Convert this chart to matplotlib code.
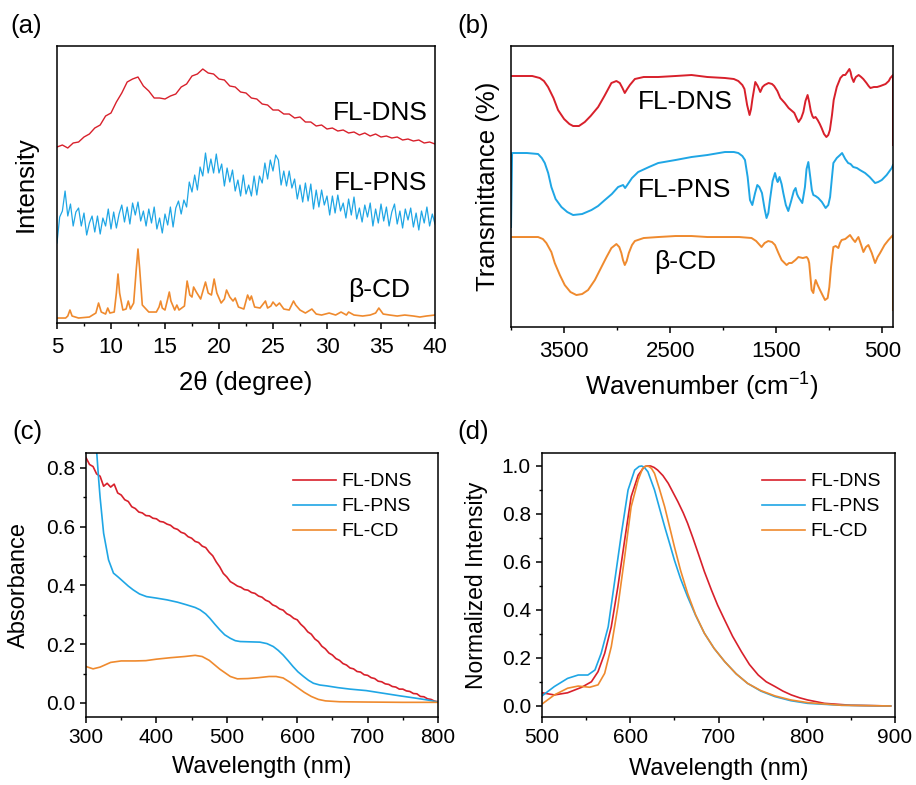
import numpy as np
import matplotlib.pyplot as plt
from matplotlib.ticker import MultipleLocator

plt.rcParams['font.family'] = ['Liberation Sans', 'DejaVu Sans']
plt.rcParams['mathtext.fontset'] = 'custom'
plt.rcParams['mathtext.rm'] = 'Liberation Sans'
plt.rcParams['mathtext.it'] = 'Liberation Sans:italic'
plt.rcParams['axes.linewidth'] = 1.1

RED = '#D8202B'
BLUE = '#1FA6E5'
ORANGE = '#EF8A2E'

# ---------------- (a) XRD, stacked (arbitrary intensity units) ----------------
xrd_dns_x = np.linspace(5, 40, 71)
xrd_dns = [176, 178, 175, 180, 181, 186, 189, 195, 198, 207,
           210, 221, 230, 241, 244, 246, 237, 232, 225, 225,
           224, 227, 229, 236, 239, 247, 249, 254, 250, 249,
           244, 243, 237, 236, 231, 230, 225, 224, 219, 218,
           213, 213, 209, 209, 205, 206, 201, 201, 197, 198,
           194, 195, 192, 193, 190, 191, 188, 190, 187, 189,
           186, 187, 185, 186, 183, 184, 182, 183, 180, 181,
           179]

xrd_pns_x = np.linspace(5, 40, 141)
xrd_pns = [80, 106, 112, 132, 107, 119, 97, 111, 115, 97,
           110, 88, 100, 107, 91, 107, 89, 105, 97, 114,
           94, 111, 95, 109, 118, 101, 116, 99, 120, 108,
           121, 102, 112, 97, 114, 100, 116, 94, 105, 90,
           109, 98, 116, 96, 115, 122, 109, 123, 116, 141,
           131, 148, 133, 156, 147, 170, 150, 164, 150, 169,
           150, 159, 137, 155, 141, 153, 132, 143, 127, 148,
           129, 138, 127, 147, 128, 147, 140, 160, 144, 163,
           152, 168, 163, 138, 152, 137, 152, 135, 144, 124,
           138, 121, 140, 122, 139, 114, 133, 116, 133, 118,
           127, 108, 127, 110, 128, 112, 120, 105, 124, 108,
           126, 104, 115, 101, 118, 106, 120, 97, 114, 100,
           119, 102, 116, 97, 111, 119, 99, 112, 95, 114,
           103, 115, 96, 110, 93, 112, 100, 116, 97, 109,
           99]

xrd_cd = [(5.0, 5), (5.8, 5), (6.0, 7), (6.2, 13), (6.4, 7), (7.0, 5), (8.0, 6),
          (8.6, 10), (8.85, 20), (9.1, 11), (9.5, 9), (9.7, 15), (9.9, 10),
          (10.3, 11), (10.5, 30), (10.65, 49), (10.8, 30), (11.1, 13), (11.4, 14),
          (11.6, 22), (11.8, 14), (12.1, 20), (12.35, 55), (12.5, 74), (12.65, 55),
          (12.9, 18), (13.5, 11), (14.2, 11), (14.45, 16), (14.6, 22), (14.75, 15),
          (15.0, 13), (15.25, 24), (15.4, 31), (15.55, 22), (15.9, 13), (16.1, 18),
          (16.3, 13), (16.8, 17), (17.05, 42), (17.3, 28), (17.5, 26), (17.65, 36),
          (17.9, 31), (18.3, 24), (18.75, 41), (19.0, 30), (19.3, 28), (19.55, 44),
          (19.8, 30), (20.2, 20), (20.5, 24), (20.7, 33), (21.0, 26), (21.3, 22),
          (21.5, 25), (21.8, 16), (22.3, 14), (22.65, 28), (22.85, 23), (23.0, 27),
          (23.3, 16), (23.8, 15), (24.3, 22), (24.5, 15), (24.8, 17), (25.0, 21),
          (25.3, 17), (25.6, 20), (26.0, 14), (26.5, 13), (26.9, 22), (27.1, 18),
          (27.5, 13), (28.0, 10), (28.6, 14), (29.0, 9), (29.5, 8), (30.2, 10),
          (30.8, 8), (31.3, 11), (31.8, 8), (32.0, 11), (32.5, 8), (33.3, 7),
          (34.0, 8), (34.5, 10), (34.8, 15), (35.2, 9), (35.8, 8), (36.5, 7),
          (37.2, 8), (38.0, 7), (38.6, 6), (39.2, 7), (40.0, 8)]

# ---------------- (b) FTIR, stacked (arbitrary transmittance units) ----------------
ftir_dns = [(3990, 251), (3800, 251), (3729, 249), (3690, 246), (3651, 240), (3600, 229),
            (3557, 217), (3500, 208), (3450, 203), (3415, 201), (3360, 201), (3305, 205),
            (3250, 211), (3179, 220), (3120, 231), (3054, 244), (3007, 246), (2975, 244),
            (2950, 239), (2928, 234), (2905, 238), (2880, 242), (2833, 248), (2750, 250),
            (2613, 250), (2450, 251), (2299, 252), (2150, 250), (1984, 249), (1900, 248),
            (1858, 246), (1820, 242), (1800, 238), (1775, 222), (1752, 212), (1738, 218),
            (1725, 228), (1698, 245), (1675, 241), (1651, 235), (1630, 240), (1610, 242),
            (1573, 244), (1540, 243), (1520, 241), (1490, 236), (1462, 229), (1420, 224),
            (1384, 219), (1340, 215), (1330, 214), (1305, 208), (1290, 205), (1265, 209),
            (1245, 215), (1225, 226), (1205, 232), (1190, 225), (1175, 216), (1160, 211),
            (1148, 209), (1130, 210), (1110, 207), (1090, 203), (1073, 199), (1050, 193),
            (1028, 190), (1010, 192), (995, 197), (975, 212), (959, 227), (930, 240),
            (896, 249), (870, 252), (850, 252), (830, 255), (811, 258), (800, 255),
            (790, 250), (771, 245), (760, 248), (750, 250), (724, 252), (700, 250),
            (680, 248), (650, 244), (630, 241), (613, 239), (580, 240), (550, 240),
            (519, 241), (470, 243), (440, 246), (425, 249), (400, 252), (400, 182)]

ftir_pns = [(4000, 100), (3990, 174), (3850, 174), (3745, 173), (3710, 169), (3682, 164),
            (3650, 154), (3620, 140), (3580, 128), (3525, 120), (3470, 115), (3415, 112),
            (3330, 113), (3242, 117), (3180, 121), (3116, 127), (3050, 133), (2991, 140),
            (2944, 142), (2925, 139), (2905, 142), (2860, 149), (2802, 155), (2700, 160),
            (2613, 164), (2450, 167), (2299, 170), (2150, 172), (1984, 175), (1900, 175),
            (1858, 174), (1820, 171), (1795, 167), (1770, 150), (1748, 127), (1726, 122),
            (1700, 134), (1679, 142), (1660, 140), (1635, 134), (1610, 118), (1592, 109),
            (1575, 114), (1560, 127), (1535, 146), (1512, 154), (1495, 147), (1487, 145),
            (1470, 150), (1450, 143), (1434, 134), (1410, 122), (1387, 116), (1360, 126),
            (1335, 136), (1318, 139), (1305, 133), (1292, 130), (1255, 124), (1230, 140),
            (1215, 158), (1198, 165), (1180, 150), (1165, 137), (1151, 132), (1130, 131),
            (1104, 129), (1070, 125), (1035, 119), (1010, 122), (993, 130), (975, 150),
            (962, 164), (930, 169), (899, 172), (880, 174), (850, 168), (823, 164),
            (800, 163), (775, 160), (740, 159), (712, 157), (663, 154), (620, 150),
            (569, 144), (540, 145), (506, 147), (460, 152), (412, 159), (400, 162)]

ftir_cd = [(3988, 90), (3850, 90), (3745, 90), (3700, 88), (3667, 84), (3620, 75),
           (3588, 64), (3540, 52), (3494, 42), (3440, 35), (3384, 32), (3330, 33),
           (3274, 37), (3210, 47), (3148, 60), (3100, 70), (3054, 79), (3007, 83),
           (2980, 80), (2960, 74), (2945, 67), (2928, 62), (2910, 66), (2890, 74),
           (2860, 82), (2833, 86), (2750, 89), (2613, 90), (2450, 91), (2299, 91),
           (2150, 90), (1984, 90), (1850, 90), (1733, 89), (1690, 86), (1639, 80),
           (1610, 84), (1576, 86), (1540, 85), (1512, 82), (1480, 74), (1450, 67),
           (1403, 62), (1380, 64), (1355, 64), (1320, 67), (1292, 70), (1250, 69),
           (1214, 70), (1200, 68), (1190, 64), (1178, 50), (1167, 37), (1151, 34),
           (1140, 42), (1129, 47), (1110, 42), (1088, 37), (1060, 31), (1041, 27),
           (1016, 29), (1000, 40), (984, 60), (962, 80), (940, 81), (915, 79),
           (900, 84), (884, 87), (850, 88), (805, 92), (780, 88), (757, 85),
           (740, 88), (726, 90), (700, 82), (679, 75), (655, 80), (632, 82),
           (600, 74), (569, 64), (545, 70), (522, 74), (480, 82), (443, 87),
           (400, 92), (400, 17)]

# ---------------- (c) UV-vis absorbance ----------------
uv_dns_x = np.arange(300, 801, 5)
uv_dns = [0.835, 0.812, 0.805, 0.780, 0.772, 0.738, 0.748, 0.735, 0.745, 0.715,
          0.708, 0.692, 0.686, 0.668, 0.662, 0.650, 0.647, 0.638, 0.637, 0.629,
          0.627, 0.618, 0.616, 0.609, 0.605, 0.595, 0.591, 0.581, 0.577, 0.566,
          0.561, 0.550, 0.546, 0.534, 0.529, 0.513, 0.501, 0.480, 0.463, 0.441,
          0.429, 0.413, 0.406, 0.398, 0.394, 0.386, 0.384, 0.376, 0.373, 0.364,
          0.360, 0.350, 0.345, 0.334, 0.329, 0.320, 0.316, 0.304, 0.298, 0.288,
          0.283, 0.268, 0.257, 0.242, 0.234, 0.218, 0.209, 0.193, 0.184, 0.170,
          0.163, 0.151, 0.145, 0.134, 0.129, 0.119, 0.116, 0.107, 0.105, 0.096,
          0.094, 0.086, 0.083, 0.074, 0.072, 0.065, 0.063, 0.056, 0.054, 0.047,
          0.047, 0.041, 0.039, 0.032, 0.031, 0.022, 0.021, 0.014, 0.012, 0.006,
          0.004]

uv_pns = [(312, 1.0), (315, 0.86), (318, 0.76), (320, 0.70), (325, 0.578), (332, 0.487),
          (339, 0.442), (346, 0.428), (353, 0.413), (360, 0.398), (367, 0.385), (376, 0.371),
          (386, 0.362), (400, 0.357), (415, 0.351), (430, 0.343), (443, 0.334), (455, 0.325),
          (462, 0.317), (470, 0.303), (476, 0.288), (483, 0.268), (490, 0.249), (497, 0.232),
          (505, 0.220), (512, 0.212), (519, 0.209), (533, 0.208), (547, 0.207), (557, 0.202),
          (566, 0.192), (573, 0.179), (580, 0.163), (587, 0.144), (594, 0.124), (601, 0.106),
          (609, 0.090), (616, 0.077), (623, 0.067), (632, 0.061), (642, 0.058), (658, 0.052),
          (675, 0.047), (698, 0.042), (722, 0.033), (746, 0.024), (769, 0.016), (785, 0.010),
          (800, 0.003)]

uv_cd = [(300, 0.124), (310, 0.116), (320, 0.122), (335, 0.138), (350, 0.143), (370, 0.143),
         (385, 0.144), (400, 0.149), (420, 0.154), (440, 0.158), (455, 0.162), (465, 0.158),
         (475, 0.145), (490, 0.115), (505, 0.090), (515, 0.082), (530, 0.083), (545, 0.086),
         (560, 0.090), (570, 0.090), (580, 0.085), (590, 0.070), (600, 0.053), (610, 0.036),
         (620, 0.022), (630, 0.012), (640, 0.007), (660, 0.004), (700, 0.003), (750, 0.002),
         (800, 0.002)]

# ---------------- (d) normalized PL ----------------
pl_dns = [(500, 0.055), (514, 0.046), (529, 0.055), (545, 0.078), (556, 0.101), (563.5, 0.143),
          (571, 0.219), (578.5, 0.330), (586, 0.497), (593.7, 0.692), (601, 0.872), (609, 0.962),
          (616, 0.997), (619, 1.0), (623, 1.0), (627, 0.994), (631, 0.983), (637, 0.960),
          (643, 0.928), (648, 0.893), (654, 0.851), (660, 0.805), (665, 0.761), (671, 0.700),
          (677, 0.636), (684, 0.560), (692, 0.483), (699, 0.420), (707, 0.358), (716, 0.290),
          (726, 0.226), (735, 0.173), (745, 0.129), (754, 0.101), (764, 0.081), (773, 0.062),
          (782.5, 0.046), (792, 0.034), (801, 0.025), (820, 0.011), (850, 0.003), (895, 0.0)]

pl_pns = [(500, 0.042), (514, 0.081), (529, 0.115), (541, 0.129), (552, 0.129), (560, 0.150),
          (567, 0.219), (575, 0.330), (582, 0.511), (590, 0.719), (597.5, 0.900), (605, 0.983),
          (610, 0.998), (613, 1.0), (616, 0.994), (620, 0.976), (627.5, 0.900), (633, 0.826),
          (639, 0.747), (645, 0.672), (650, 0.608), (657, 0.530), (665, 0.455), (674, 0.378),
          (684, 0.303), (695, 0.240), (707, 0.185), (720, 0.134), (733, 0.094), (748, 0.062),
          (764, 0.039), (782, 0.022), (801, 0.011), (839, 0.003), (895, 0.0)]

pl_cd = [(500, 0.008), (514, 0.046), (529, 0.074), (541, 0.083), (554, 0.078), (563.5, 0.088),
         (571, 0.136), (578.5, 0.247), (586, 0.414), (593.7, 0.622), (601, 0.830), (609, 0.942),
         (614, 0.990), (618, 1.0), (621, 0.998), (624, 0.990), (627.5, 0.969), (633, 0.905),
         (639, 0.830), (645, 0.740), (650, 0.664), (657, 0.565), (665, 0.469), (674, 0.380),
         (684, 0.303), (695, 0.240), (707, 0.185), (720, 0.134), (733, 0.094), (748, 0.064),
         (764, 0.042), (782, 0.025), (801, 0.014), (839, 0.003), (895, 0.0)]


def xy(pairs):
    arr = np.array(pairs, dtype=float)
    return arr[:, 0], arr[:, 1]


def style(ax, size):
    ax.tick_params(which='major', direction='out', length=4, width=1.1,
                   labelsize=size, top=False, right=False, pad=4)
    ax.tick_params(which='minor', direction='out', length=2.5, width=1.0,
                   top=False, right=False)


fig = plt.figure(figsize=(9.16, 7.85), dpi=100)

# (a)
ax = fig.add_axes([0.0622, 0.5885, 0.4127, 0.3529])
ax.plot(xrd_dns_x, xrd_dns, color=RED, lw=1.0)
ax.plot(xrd_pns_x, xrd_pns, color=BLUE, lw=0.9)
ax.plot(*xy(xrd_cd), color=ORANGE, lw=1.2)
ax.set_xlim(5, 40)
ax.set_ylim(0, 277)
ax.set_yticks([])
ax.xaxis.set_major_locator(MultipleLocator(5))
ax.xaxis.set_minor_locator(MultipleLocator(2.5))
style(ax, 16)
ax.tick_params(axis='x', pad=6)
ax.text(39.3, 210, 'FL-DNS', ha='right', va='center', fontsize=19)
ax.text(39.3, 140, 'FL-PNS', ha='right', va='center', fontsize=19)
ax.text(37.7, 33, 'β-CD', ha='right', va='center', fontsize=19)
ax.set_xlabel('2θ (degree)', fontsize=18.5)
ax.set_ylabel('Intensity', fontsize=18.5)
ax.xaxis.set_label_coords(0.5, -0.173)
ax.yaxis.set_label_coords(-0.05, 0.5)

# (b)
ax = fig.add_axes([0.5579, 0.5834, 0.417, 0.358])
ax.plot(*xy(ftir_dns), color=RED, lw=1.4)
ax.plot(*xy(ftir_pns), color=BLUE, lw=1.4)
ax.plot(*xy(ftir_cd), color=ORANGE, lw=1.4)
ax.set_xlim(4000, 400)
ax.set_ylim(0, 281)
ax.set_yticks([])
ax.set_xticks([3500, 2500, 1500, 500])
ax.xaxis.set_minor_locator(MultipleLocator(500))
style(ax, 16)
ax.tick_params(axis='x', pad=6)
ax.text(2360, 225, 'FL-DNS', ha='center', va='center', fontsize=19)
ax.text(2360, 137, 'FL-PNS', ha='center', va='center', fontsize=19)
ax.text(2360, 65, 'β-CD', ha='center', va='center', fontsize=19)
ax.set_xlabel('Wavenumber (cm$^{-1}$)', fontsize=18.5)
ax.set_ylabel('Transmittance (%)', fontsize=18.5)
ax.xaxis.set_label_coords(0.5, -0.157)
ax.yaxis.set_label_coords(-0.029, 0.5)

# (c)
ax = fig.add_axes([0.0939, 0.0866, 0.3843, 0.3363])
ax.plot(uv_dns_x, uv_dns, color=RED, lw=1.2, label='FL-DNS')
ax.plot(*xy(uv_pns), color=BLUE, lw=1.2, label='FL-PNS')
ax.plot(*xy(uv_cd), color=ORANGE, lw=1.2, label='FL-CD')
ax.set_xlim(300, 800)
ax.set_ylim(-0.048, 0.851)
ax.set_yticks([0.0, 0.2, 0.4, 0.6, 0.8])
ax.xaxis.set_minor_locator(MultipleLocator(50))
ax.yaxis.set_minor_locator(MultipleLocator(0.1))
style(ax, 15)
ax.set_xlabel('Wavelength (nm)', fontsize=17)
ax.set_ylabel('Absorbance', fontsize=17)
ax.xaxis.set_label_coords(0.5, -0.148)
ax.yaxis.set_label_coords(-0.159, 0.5)
ax.legend(loc='upper left', bbox_to_anchor=(0.588, 0.925), frameon=False, fontsize=14,
          handlelength=2.2, handletextpad=0.3, labelspacing=0.38, borderpad=0,
          borderaxespad=0)

# (d)
ax = fig.add_axes([0.5917, 0.0866, 0.3854, 0.3363])
ax.plot(*xy(pl_dns), color=RED, lw=1.2, label='FL-DNS')
ax.plot(*xy(pl_pns), color=BLUE, lw=1.2, label='FL-PNS')
ax.plot(*xy(pl_cd), color=ORANGE, lw=1.2, label='FL-CD')
ax.set_xlim(500, 900)
ax.set_ylim(-0.046, 1.054)
ax.set_yticks([0.0, 0.2, 0.4, 0.6, 0.8, 1.0])
ax.xaxis.set_minor_locator(MultipleLocator(50))
ax.yaxis.set_minor_locator(MultipleLocator(0.1))
style(ax, 15)
ax.set_xlabel('Wavelength (nm)', fontsize=17)
ax.set_ylabel('Normalized Intensity', fontsize=16.5)
ax.xaxis.set_label_coords(0.5, -0.155)
ax.yaxis.set_label_coords(-0.153, 0.5)
ax.legend(loc='upper left', bbox_to_anchor=(0.623, 0.925), frameon=False, fontsize=14,
          handlelength=2.2, handletextpad=0.3, labelspacing=0.38, borderpad=0,
          borderaxespad=0)

# panel letters
fig.text(10 / 916, 1 - 14 / 785, '(a)', fontsize=18.5, va='top', ha='left')
fig.text(457 / 916, 1 - 14 / 785, '(b)', fontsize=18.5, va='top', ha='left')
fig.text(12 / 916, 1 - 420 / 785, '(c)', fontsize=18.5, va='top', ha='left')
fig.text(457 / 916, 1 - 420 / 785, '(d)', fontsize=18.5, va='top', ha='left')

fig.savefig('out.png', dpi=100)
